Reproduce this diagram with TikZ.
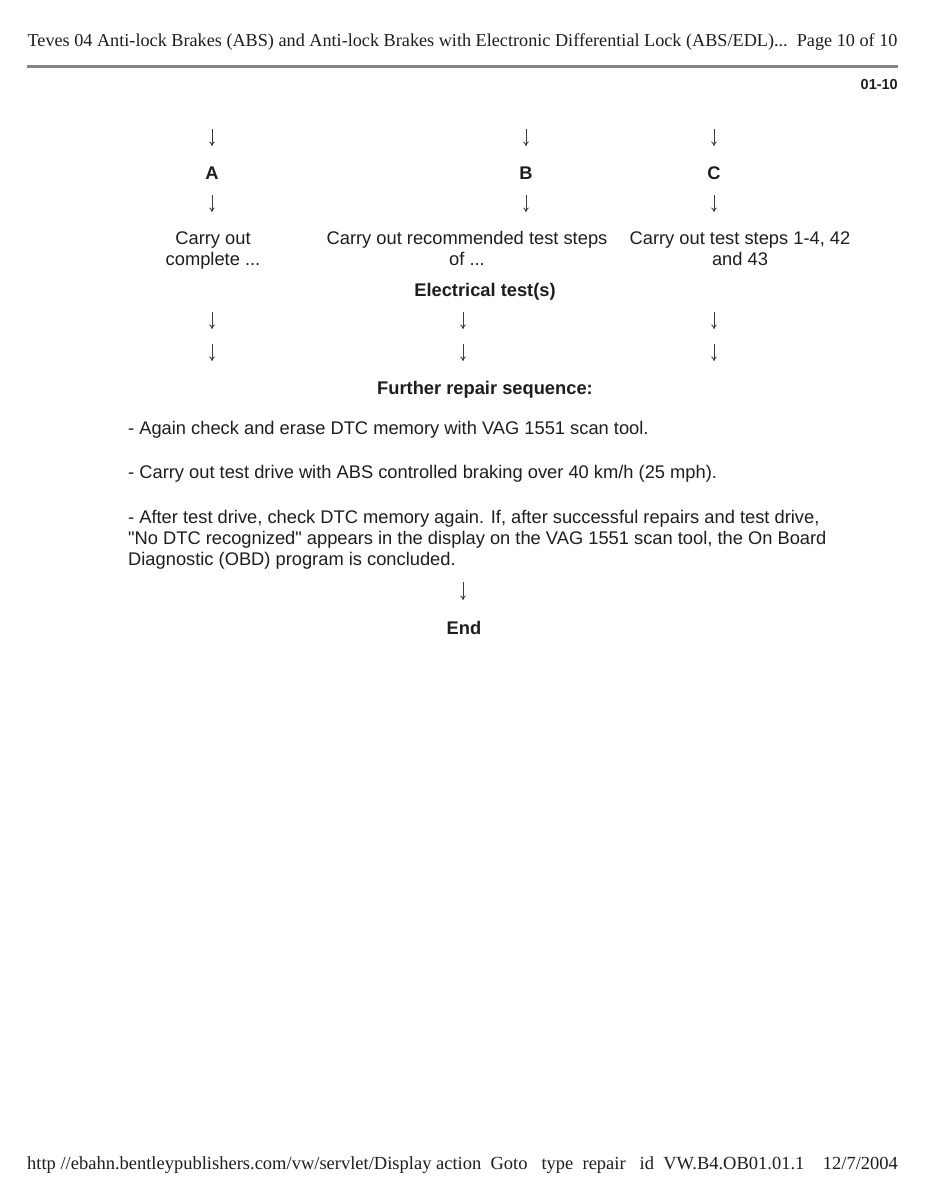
\documentclass[tikz,border=0pt]{standalone}
\usepackage{fontspec}
\setmainfont{Liberation Sans}[Ligatures=TeXOff]
\newfontfamily\serifhead{Liberation Serif}
\usetikzlibrary{arrows.meta}
\definecolor{ink}{HTML}{1E1E1E}
\definecolor{arrgray}{HTML}{3C3C3C}
\definecolor{rulegray}{HTML}{858585}
\tikzset{
  txt/.style={inner sep=0pt, text=ink, font=\fontsize{18.3}{21}\selectfont},
  btxt/.style={txt, font=\fontsize{18.3}{21}\selectfont\bfseries},
  head/.style={inner sep=0pt, text=ink, font=\fontsize{18.2}{23}\selectfont\serifhead},
  foot/.style={inner sep=0pt, text=ink, font=\fontsize{18.5}{23}\selectfont\serifhead},
  arr/.style={draw=arrgray, line width=0.9pt, -{To[length=4.5pt,width=5.5pt]}},
  twoline/.style={txt, align=center, text depth=5pt},
}
\begin{document}
\begin{tikzpicture}[x=1pt,y=-1pt]
\useasboundingbox[fill=white] (0,0) rectangle (927,1200);
% header
\node[head, anchor=base] (hdr) at (462.5,46) {Teves 04 Anti-lock Brakes (ABS) and Anti-lock Brakes with Electronic Differential Lock (ABS/EDL)...\ \ Page 10 of 10};
\fill[rulegray] (27,64.5) rectangle (898,67.5);
\node[btxt, anchor=base east, font=\fontsize{14.5}{17}\selectfont\bfseries] (pg) at (898,89) {01-10};
% row 1 arrows
\coordinate (a1s) at (212,129); \coordinate (a1e) at (212,146);
\coordinate (b1s) at (526,129); \coordinate (b1e) at (526,146);
\coordinate (c1s) at (714,129); \coordinate (c1e) at (714,146);
\draw[arr] (a1s) -- (a1e);
\draw[arr] (b1s) -- (b1e);
\draw[arr] (c1s) -- (c1e);
% letters
\node[btxt] (A) at (212,173) {A};
\node[btxt] (B) at (526,173) {B};
\node[btxt] (C) at (714,173) {C};
% row 2 arrows
\coordinate (a2s) at (212,195); \coordinate (a2e) at (212,212);
\coordinate (b2s) at (526,195); \coordinate (b2e) at (526,212);
\coordinate (c2s) at (714,195); \coordinate (c2e) at (714,212);
\draw[arr] (a2s) -- (a2e);
\draw[arr] (b2s) -- (b2e);
\draw[arr] (c2s) -- (c2e);
% texts
\node[twoline] (ta) at (213,251) {Carry out\\complete ...};
\node[twoline] (tb) at (467,251) {Carry out recommended test steps\\of ...};
\node[twoline] (tc) at (740,251) {Carry out test steps 1-4, 42\\and 43};
\node[btxt] (et) at (485,292) {Electrical test(s)};
% row 3 and 4 arrows
\foreach \x/\n in {212/a,463/b,714/c}{
  \coordinate (\n3s) at (\x,312); \coordinate (\n3e) at (\x,329);
  \coordinate (\n4s) at (\x,344); \coordinate (\n4e) at (\x,361);
  \draw[arr] (\n3s) -- (\n3e);
  \draw[arr] (\n4s) -- (\n4e);
}
\node[btxt] (frs) at (485,390) {Further repair sequence:};
\node[txt, anchor=west] (p1) at (128,430) {- Again check and erase DTC memory with VAG 1551 scan tool.};
\node[txt, anchor=west] (p2) at (128,474) {- Carry out test drive with ABS controlled braking over 40 km/h (25 mph).};
\node[txt, anchor=west, align=left] (p3) at (128,540) {- After test drive, check DTC memory again. If, after successful repairs and test drive,\\"No DTC recognized" appears in the display on the VAG 1551 scan tool, the On Board\\Diagnostic (OBD) program is concluded.};
\coordinate (es) at (463,582); \coordinate (ee) at (463,600);
\draw[arr] (es) -- (ee);
\node[btxt] (end) at (464,628) {End};
% footer
\node[foot, anchor=base] (ftr) at (462.5,1169) {http //ebahn.bentleypublishers.com/vw/servlet/Display action\ \ Goto\ \ \ type\ \ repair\ \ \ id\ \ VW.B4.OB01.01.1\ \ \ \ 12/7/2004};
\end{tikzpicture}
\end{document}
